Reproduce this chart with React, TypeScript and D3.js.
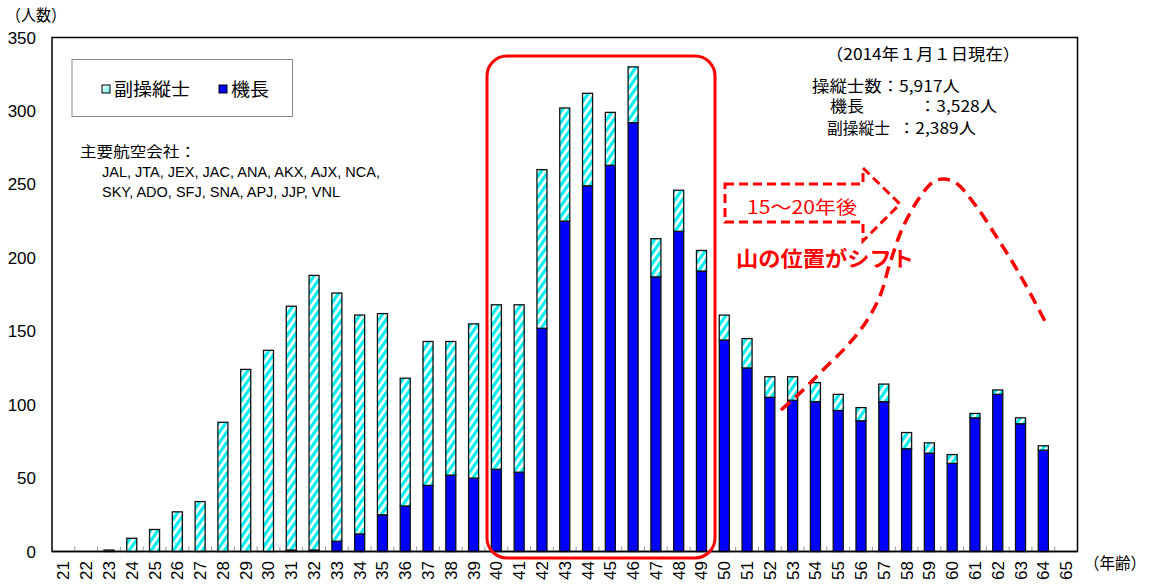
import React from "react";
import * as d3 from "d3";

const ages = ["21","22","23","24","25","26","27","28","29","30","31","32","33","34","35","36","37","38","39","40","41","42","43","44","45","46","47","48","49","50","51","52","53","54","55","56","57","58","59","60","61","62","63","64","65"];
const captains = [0,0,0,0,0,0,0,0,0,0,1,1,7,12,25,31,45,52,50,56,54,152,225,249,263,292,187,218,191,144,125,105,103,102,96,89,102,70,67,60,91,107,87,69,0];
const firstOfficers = [0,0,1,9,15,27,34,88,124,137,166,187,169,149,137,87,98,91,105,112,114,108,77,63,36,38,26,28,14,17,20,14,16,13,11,9,12,11,7,6,3,3,4,3,0];
const yTicks = [0,50,100,150,200,250,300,350];
const seriesNames = ["副操縦士","機長"];
const airlineTitle = "主要航空会社：";
const airlineLine1 = "JAL, JTA, JEX, JAC, ANA, AKX, AJX, NCA,";
const airlineLine2 = "SKY, ADO, SFJ, SNA, APJ, JJP, VNL";
const dateNote = "（2014年１月１日現在）";
const totalLabel = "操縦士数：5,917人";
const captainLabel = "機長";
const captainValue = "：3,528人";
const foLabel = "副操縦士";
const foValue = "：2,389人";
const shiftYears = "15～20年後";
const shiftText = "山の位置がシフト";
// hand-drawn annotation curve (pixel path of the dashed "future peak")
const shiftCurve: [number, number][] = [
  [781, 410],[800, 393],[823, 370],[847, 346],[866, 322],[880, 296],[890, 263],[903, 227],[920, 197],[933, 182],[943, 179],[956, 183],[976, 206],[996, 236],[1013, 263],[1030, 293],[1048, 327]
];

const W = 1149, H = 586;
const left = 52, right = 1077.5, top = 37.5, bottom = 551.5;
const JP = "'Noto Sans CJK JP', 'Noto Sans', sans-serif";
const LAT = "'Liberation Sans', Arial, sans-serif";

export default function App() {
  const x = d3.scaleBand<string>().domain(ages).range([left, right]).paddingInner(0.56).paddingOuter(0.28);
  const y = d3.scaleLinear().domain([0, 350]).range([bottom, top]);
  const step = x.step();
  const bw = x.bandwidth();
  const curve = d3.line().curve(d3.curveCatmullRom.alpha(0.5))(shiftCurve) || "";

  const arrow = "M725,184 L863,184 L863,168 L900,204 L863,241 L863,222 L725,222 Z";

  return (
    <svg width={W} height={H} style={{ position: "absolute", left: 0, top: 0, background: "#fff" }}>
      <defs>
        <pattern id="stripe" patternUnits="userSpaceOnUse" width="6" height="6" patternTransform="rotate(35)">
          <rect x="0" y="0" width="6" height="6" fill="#fff" />
          <rect x="0" y="0" width="3.2" height="6" fill="#00EEEE" />
        </pattern>
        <linearGradient id="lg" x1="0" y1="0" x2="1" y2="1">
          <stop offset="0" stopColor="#ffffff" />
          <stop offset="1" stopColor="#66f0f0" />
        </linearGradient>
      </defs>
      <rect x={0} y={0} width={W} height={H} fill="#fff" />

      {/* plot frame */}
      <rect x={left} y={top} width={right - left} height={bottom - top} fill="none" stroke="#000" strokeWidth={1.5} />

      {/* x ticks at category boundaries */}
      {ages.slice(1).map((a) => {
        const xb = (x(a) as number) - (step - bw) / 2;
        return <line key={"t" + a} x1={xb} x2={xb} y1={bottom - 5} y2={bottom} stroke="#999" strokeWidth={1} />;
      })}

      {/* bars */}
      {ages.map((a, i) => {
        const bx = x(a) as number;
        const c = captains[i];
        const f = firstOfficers[i];
        return (
          <g key={a}>
            {c > 0 && (
              <rect x={bx} y={y(c)} width={bw} height={y(0) - y(c)} fill="#0000FF" stroke="#111" strokeWidth={1.3} />
            )}
            {f > 0 && (
              <rect x={bx} y={y(c + f)} width={bw} height={y(c) - y(c + f)} fill="url(#stripe)" stroke="#111" strokeWidth={1.3} />
            )}
          </g>
        );
      })}

      {/* bottom axis line on top */}
      <line x1={left} x2={right} y1={bottom} y2={bottom} stroke="#000" strokeWidth={1.5} />

      {/* y tick labels */}
      {yTicks.map((t) => (
        <text key={"y" + t} x={36} y={y(t) + 6} textAnchor="end" fontFamily={LAT} fontSize={17} fill="#000">{t}</text>
      ))}
      <text x={6} y={21} fontFamily={JP} fontSize={16} textLength={60} lengthAdjust="spacingAndGlyphs">（人数）</text>

      {/* x tick labels */}
      {ages.map((a) => {
        const cx = (x(a) as number) + bw / 2;
        return (
          <text key={"x" + a} transform={`translate(${cx + 6},${561}) rotate(-90)`} textAnchor="end" fontFamily={LAT} fontSize={17} fill="#000">{a}</text>
        );
      })}
      <text x={1084} y={569} fontFamily={JP} fontSize={16} textLength={62} lengthAdjust="spacingAndGlyphs">（年齢）</text>

      {/* legend */}
      <rect x={72} y={59.5} width={220.5} height={57} fill="#fff" stroke="#888" strokeWidth={1} />
      <rect x={102} y={85} width={8} height={8} fill="url(#lg)" stroke="#000" strokeWidth={1} />
      <text x={114} y={96} fontFamily={JP} fontSize={18} textLength={76} lengthAdjust="spacingAndGlyphs">{seriesNames[0]}</text>
      <rect x={219} y={85} width={8} height={8} fill="#0000FF" stroke="#000" strokeWidth={1} />
      <text x={231} y={96} fontFamily={JP} fontSize={18} textLength={38} lengthAdjust="spacingAndGlyphs">{seriesNames[1]}</text>

      {/* airlines */}
      <text x={80} y={157} fontFamily={JP} fontSize={15} textLength={116} lengthAdjust="spacingAndGlyphs">{airlineTitle}</text>
      <text x={102} y={177} fontFamily={LAT} fontSize={15} textLength={278} lengthAdjust="spacingAndGlyphs">{airlineLine1}</text>
      <text x={102} y={197} fontFamily={LAT} fontSize={15} textLength={238} lengthAdjust="spacingAndGlyphs">{airlineLine2}</text>

      {/* date / totals */}
      <text x={826} y={60} fontFamily={JP} fontSize={16} textLength={194} lengthAdjust="spacingAndGlyphs">{dateNote}</text>
      <text x={812} y={92} fontFamily={JP} fontSize={15.5} textLength={148} lengthAdjust="spacingAndGlyphs">{totalLabel}</text>
      <text x={830} y={112} fontFamily={JP} fontSize={15.5} textLength={34} lengthAdjust="spacingAndGlyphs">{captainLabel}</text>
      <text x={919} y={112} fontFamily={JP} fontSize={15.5} textLength={78} lengthAdjust="spacingAndGlyphs">{captainValue}</text>
      <text x={827} y={134} fontFamily={JP} fontSize={15.5} textLength={63} lengthAdjust="spacingAndGlyphs">{foLabel}</text>
      <text x={898} y={134} fontFamily={JP} fontSize={15.5} textLength={78} lengthAdjust="spacingAndGlyphs">{foValue}</text>

      {/* red highlight box */}
      <rect x={487} y={56} width={228} height={502} rx={20} ry={20} fill="none" stroke="#FF0000" strokeWidth={3} />

      {/* dashed arrow */}
      <path d={arrow} fill="none" stroke="#FF0000" strokeWidth={3} strokeDasharray="9 5" />
      <text x={747} y={214} fontFamily={JP} fontSize={18} fill="#FF0000" textLength={110} lengthAdjust="spacingAndGlyphs">{shiftYears}</text>
      <text x={736} y={266} fontFamily={JP} fontSize={21} fontWeight="bold" fill="#FF0000" textLength={178} lengthAdjust="spacingAndGlyphs">{shiftText}</text>

      {/* dashed future curve */}
      <path d={curve} fill="none" stroke="#FF0000" strokeWidth={3.5} strokeDasharray="12 7" />
    </svg>
  );
}
